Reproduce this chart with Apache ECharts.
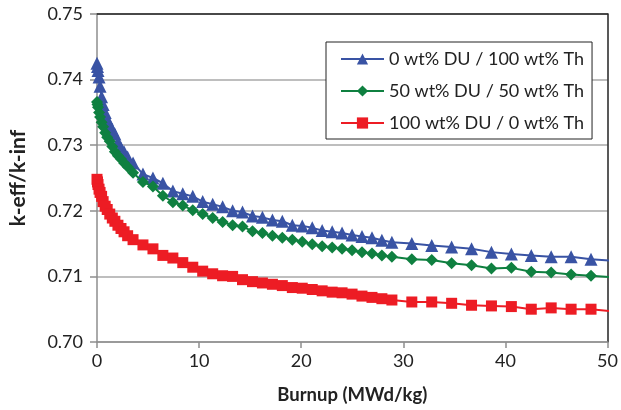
<!DOCTYPE html>
<html>
<head>
<meta charset="utf-8">
<script src="https://cdn.jsdelivr.net/npm/echarts@6/dist/echarts.min.js"></script>
<style>
html,body{margin:0;padding:0;background:#fff;}
#chart{width:621px;height:410px;}
</style>
</head>
<body>
<div id="chart"></div>
<script>
// Burnup (MWd/kg) sample points shared by all series
const burnup = [0, 0.05, 0.1, 0.2, 0.3, 0.45, 0.6, 0.8, 1.0, 1.25, 1.5, 1.75, 2.05, 2.35, 2.65, 3.0,
  3.53, 4.5, 5.48, 6.45, 7.43, 8.4, 9.38, 10.35, 11.33, 12.3, 13.28, 14.25, 15.23, 16.2, 17.18, 18.15,
  19.13, 20.1, 21.08, 22.05, 23.03, 24.0, 24.98, 25.95, 26.93, 27.9, 28.88,
  30.83, 32.78, 34.73, 36.68, 38.63, 40.58, 42.53, 44.48, 46.43, 48.38, 50.33];

const seriesNames = ['0 wt% DU / 100 wt% Th', '50 wt% DU / 50 wt% Th', '100 wt% DU / 0 wt% Th'];

const th100 = [0.7425, 0.7420, 0.7414, 0.7404, 0.7390, 0.7374, 0.7362, 0.7350, 0.7340, 0.7331, 0.7324, 0.7317, 0.7305, 0.7296, 0.7290, 0.7282,
  0.7273, 0.7256, 0.7250, 0.7242, 0.7230, 0.7226, 0.7222, 0.7214, 0.7210, 0.7206, 0.7200, 0.7198, 0.7192, 0.7190, 0.7186, 0.7184,
  0.7178, 0.7177, 0.7174, 0.7170, 0.7168, 0.7166, 0.7163, 0.7161, 0.7159, 0.7155, 0.7152,
  0.7150, 0.7147, 0.7145, 0.7142, 0.7137, 0.7134, 0.7132, 0.7130, 0.7130, 0.7126, 0.7124];

const du50 = [0.7366, 0.7362, 0.7358, 0.7350, 0.7343, 0.7335, 0.7328, 0.7319, 0.7312, 0.7306, 0.7298, 0.7290, 0.7284, 0.7279, 0.7273, 0.7267,
  0.7258, 0.7244, 0.7237, 0.7223, 0.7213, 0.7208, 0.7201, 0.7195, 0.7189, 0.7183, 0.7178, 0.7176, 0.7169, 0.7166, 0.7162, 0.7159,
  0.7156, 0.7153, 0.7149, 0.7146, 0.7144, 0.7142, 0.7140, 0.7137, 0.7135, 0.7132, 0.7130,
  0.7126, 0.7125, 0.7120, 0.7117, 0.7112, 0.7113, 0.7107, 0.7106, 0.7103, 0.7101, 0.7099];

const du100 = [0.7248, 0.7244, 0.7240, 0.7233, 0.7228, 0.7222, 0.7214, 0.7207, 0.7202, 0.7195, 0.7189, 0.7184, 0.7178, 0.7173, 0.7168, 0.7162,
  0.7156, 0.7148, 0.7142, 0.7132, 0.7128, 0.7121, 0.7114, 0.7108, 0.7104, 0.7101, 0.7100, 0.7095, 0.7092, 0.7090, 0.7088, 0.7086,
  0.7083, 0.7082, 0.7080, 0.7078, 0.7076, 0.7075, 0.7073, 0.7070, 0.7068, 0.7066, 0.7064,
  0.7061, 0.7061, 0.7059, 0.7056, 0.7055, 0.7054, 0.7050, 0.7052, 0.7050, 0.7050, 0.7047];

const xTitle = 'Burnup (MWd/kg)';
const yTitle = 'k-eff/k-inf';

const FONT = 'Lato';
const colors = ['#3953A4', '#0F8040', '#ED1C24'];
const symbols = ['triangle', 'diamond', 'rect'];
const sizes = [13, 12, 11];
const values = [th100, du50, du100];

const chart = echarts.init(document.getElementById('chart'), null, {renderer: 'canvas'});

const series = values.map((vals, i) => ({
  name: seriesNames[i],
  type: 'line',
  data: burnup.map((b, j) => [b, vals[j]]),
  symbol: symbols[i],
  symbolSize: sizes[i],
  showAllSymbol: true,
  color: colors[i],
  itemStyle: {color: colors[i]},
  lineStyle: {color: colors[i], width: 2},
  clip: true,
  z: 3 + i
}));

chart.setOption({
  animation: false,
  backgroundColor: '#fff',
  textStyle: {fontFamily: FONT},
  grid: {left: 95, right: 11, top: 14, bottom: 68},
  legend: {
    orient: 'vertical',
    left: 326,
    top: 42,
    backgroundColor: '#fff',
    borderColor: '#222',
    borderWidth: 1,
    borderRadius: 0,
    padding: [8, 8, 7, 14],
    itemWidth: 43,
    itemHeight: 14,
    itemGap: 14,
    textStyle: {fontFamily: FONT, fontSize: 18, color: '#222'},
    data: seriesNames
  },
  xAxis: [{
    type: 'value', min: 0, max: 50, interval: 10,
    name: xTitle, nameLocation: 'middle', nameGap: 44,
    nameTextStyle: {fontFamily: FONT, fontSize: 18.5, fontWeight: 'bold', color: '#222'},
    axisLine: {show: true, lineStyle: {color: '#8e8e8e', width: 1.5}},
    axisTick: {show: true, length: 6, lineStyle: {color: '#8e8e8e', width: 1.5}},
    axisLabel: {fontFamily: FONT, fontSize: 18, color: '#222', margin: 10},
    splitLine: {show: false}
  }, {
    type: 'value', min: 0, max: 50, position: 'top',
    axisLine: {show: true, onZero: false, lineStyle: {color: '#222', width: 1.5}},
    axisTick: {show: false}, axisLabel: {show: false}, splitLine: {show: false}
  }],
  yAxis: [{
    type: 'value', min: 0.70, max: 0.75, interval: 0.01,
    name: yTitle, nameLocation: 'middle', nameGap: 68, nameRotate: 90,
    nameTextStyle: {fontFamily: FONT, fontSize: 21, fontWeight: 'bold', color: '#222'},
    axisLine: {show: true, lineStyle: {color: '#8e8e8e', width: 1.5}},
    axisTick: {show: true, length: 7, lineStyle: {color: '#8e8e8e', width: 1.5}},
    axisLabel: {fontFamily: FONT, fontSize: 18, color: '#222', margin: 14,
      formatter: v => v.toFixed(2)},
    splitLine: {show: true, lineStyle: {color: '#a8a8a8', width: 1.5}}
  }, {
    type: 'value', min: 0.70, max: 0.75, position: 'right',
    axisLine: {show: true, onZero: false, lineStyle: {color: '#222', width: 1.5}},
    axisTick: {show: false}, axisLabel: {show: false}, splitLine: {show: false}
  }],
  series: series
});
</script>
</body>
</html>
